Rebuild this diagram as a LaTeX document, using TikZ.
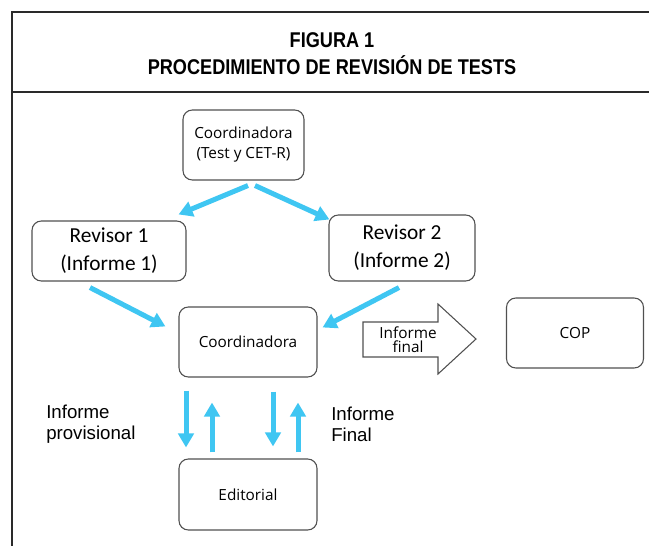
\documentclass[tikz,border=0pt]{standalone}
\usepackage{fontspec}
\setmainfont{Open Sans}
\newfontfamily\revfont{Carlito}
\newfontfamily\labelfont{Liberation Sans}
\newfontfamily\titlefont[FakeStretch=0.85]{Liberation Sans}
\usetikzlibrary{arrows.meta}

\definecolor{flowblue}{HTML}{3FC6F2}
\definecolor{boxgray}{HTML}{505050}
\definecolor{framegray}{HTML}{2A2A2A}

\tikzset{
  box/.style={draw=boxgray, line width=0.8pt, rounded corners=7pt, inner sep=0pt, align=center,
    font=\fontsize{11.5}{15}\selectfont},
  revbox/.style={box, font=\revfont\fontsize{16}{21}\selectfont},
  flow/.style={draw=flowblue, line width=3.75pt, -{Triangle[width=11.5pt,length=10.5pt]}},
  sidelabel/.style={anchor=west, align=left, inner sep=0pt, font=\labelfont\fontsize{14}{15.75}\selectfont},
  frameline/.style={draw=framegray, line width=1.6pt}
}

\begin{document}
\begin{tikzpicture}[x=0.75pt, y=-0.75pt]
    \useasboundingbox (0,0) rectangle (649,546);

    % frame and title
    \draw[frameline] (649,12) -- (12,12) -- (12,546);
    \draw[frameline] (12,92) -- (649,92);
    \node[align=center, font=\titlefont\bfseries\fontsize{16}{20.25}\selectfont] (title) at (332,53.5) {FIGURA 1\\PROCEDIMIENTO DE REVISIÓN DE TESTS};

    % boxes
    \node[box, minimum width=90.75pt, minimum height=52.5pt] (coordtop) at (243.5,145) {Coordinadora\\(Test y CET-R)};
    \node[revbox, minimum width=115.5pt, minimum height=45pt] (rev1) at (109,251) {Revisor 1\\(Informe 1)};
    \node[revbox, minimum width=109.5pt, minimum height=49.5pt] (rev2) at (402,248) {Revisor 2\\(Informe 2)};
    \node[box, minimum width=103.5pt, minimum height=52.5pt] (coordmid) at (248,342) {Coordinadora};
    \node[box, minimum width=102.75pt, minimum height=52.5pt] (cop) at (575,333) {COP};
    \node[box, minimum width=103.5pt, minimum height=53.25pt] (editorial) at (248,494.5) {Editorial};

    % block arrow to COP
    \draw[draw=boxgray, line width=0.8pt] (363,322) -- (438,322) -- (438,304) -- (476,339) -- (438,374) -- (438,357) -- (363,357) -- cycle;
    \node[align=center, inner sep=0pt, font=\fontsize{11.5}{10.5}\selectfont] (finallabel) at (408,340) {Informe\\final};

    % flows
    \draw[flow] ([shift={(4.5,5)}]coordtop.south) -- ([shift={(-8,-6)}]rev1.north east);
    \draw[flow] ([shift={(11.5,5)}]coordtop.south) -- ([shift={(1,5)}]rev2.north west);
    \draw[flow] ([shift={(-19,6)}]rev1.south) -- ([shift={(-13,20)}]coordmid.north west);
    \draw[flow] ([shift={(-3,6)}]rev2.south) -- ([shift={(5,21)}]coordmid.north east);

    \draw[flow] ([shift={(-62,13)}]coordmid.south) -- ([shift={(-62,-11)}]editorial.north);
    \draw[flow] ([shift={(-36,-6)}]editorial.north) -- ([shift={(-36,25)}]coordmid.south);
    \draw[flow] ([shift={(25,14)}]coordmid.south) -- ([shift={(25,-12)}]editorial.north);
    \draw[flow] ([shift={(50,-6)}]editorial.north) -- ([shift={(50,25)}]coordmid.south);

    % side labels
    \node[sidelabel] (provlabel) at (46,424.5) {Informe\\provisional};
    \node[sidelabel] (finlabel) at (331,424.5) {Informe\\Final};
\end{tikzpicture}
\end{document}
